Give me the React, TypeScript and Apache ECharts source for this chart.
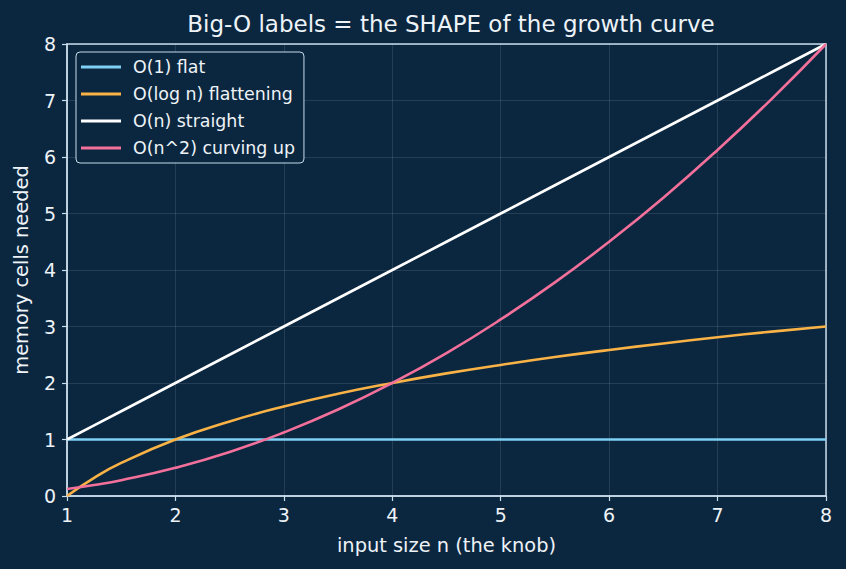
import React, { useEffect, useRef } from "react";
import * as echarts from "echarts";

// input sizes n sampled along the x axis
const nValues = [1, 1.25, 1.5, 2, 2.5, 3, 3.5, 4, 4.5, 5, 5.5, 6, 6.5, 7, 7.5, 8];

// memory cells needed for each growth class
const constantCells = [1, 1, 1, 1, 1, 1, 1, 1, 1, 1, 1, 1, 1, 1, 1, 1];
const logCells = [0, 0.32, 0.585, 1, 1.32, 1.585, 1.81, 2, 2.17, 2.32, 2.46, 2.585, 2.7, 2.81, 2.91, 3];
const linearCells = [1, 1.25, 1.5, 2, 2.5, 3, 3.5, 4, 4.5, 5, 5.5, 6, 6.5, 7, 7.5, 8];
const quadraticCells = [0.125, 0.195, 0.28, 0.5, 0.78, 1.125, 1.53, 2, 2.53, 3.125, 3.78, 4.5, 5.28, 6.125, 7.03, 8];

const seriesNames = ["O(1) flat", "O(log n) flattening", "O(n) straight", "O(n^2) curving up"];
const seriesColors = ["#7fd0f5", "#f8b246", "#ffffff", "#f2709a"];
const seriesValues = [constantCells, logCells, linearCells, quadraticCells];

const BG = "#0b2740";
const SPINE = "#c8dcea";
const TEXT = "#eef3f7";
const FONT = "'DejaVu Sans', sans-serif";

export default function App() {
  const ref = useRef<HTMLDivElement>(null);

  useEffect(() => {
    if (!ref.current) return;
    const chart = echarts.init(ref.current, undefined, { renderer: "svg" });
    chart.setOption({
      animation: false,
      backgroundColor: BG,
      textStyle: { fontFamily: FONT },
      title: {
        text: "Big-O labels = the SHAPE of the growth curve",
        left: 446,
        textAlign: "center",
        top: 7,
        textStyle: { color: TEXT, fontSize: 23, fontWeight: "normal", fontFamily: FONT },
      },
      legend: {
        orient: "vertical",
        left: 76,
        top: 52,
        padding: [5, 9, 5, 5],
        itemGap: 7,
        itemWidth: 40,
        itemHeight: 3,
        icon: "rect",
        backgroundColor: BG,
        borderColor: SPINE,
        borderWidth: 1,
        borderRadius: 4,
        textStyle: { color: TEXT, fontSize: 17.4, fontFamily: FONT, lineHeight: 20, padding: [0, 0, 0, 7] },
        data: seriesNames,
      },
      grid: {
        left: 67,
        right: 20,
        top: 44,
        bottom: 73,
        show: true,
        borderColor: SPINE,
        borderWidth: 1.5,
        backgroundColor: "transparent",
      },
      xAxis: {
        type: "value",
        min: 1,
        max: 8,
        interval: 1,
        name: "input size n (the knob)",
        nameLocation: "middle",
        nameGap: 40,
        nameTextStyle: { color: TEXT, fontSize: 19.4, fontFamily: FONT },
        axisLine: { show: true, lineStyle: { color: SPINE, width: 1.5 } },
        axisTick: { show: true, length: 5, lineStyle: { color: SPINE, width: 1.2 } },
        axisLabel: { color: TEXT, fontSize: 19, margin: 9, fontFamily: FONT },
        splitLine: { show: true, lineStyle: { color: "rgba(255,255,255,0.14)", width: 0.8 } },
      },
      yAxis: {
        type: "value",
        min: 0,
        max: 8,
        interval: 1,
        name: "memory cells needed",
        nameLocation: "middle",
        nameGap: 36,
        nameTextStyle: { color: TEXT, fontSize: 19.4, fontFamily: FONT },
        axisLine: { show: true, lineStyle: { color: SPINE, width: 1.5 } },
        axisTick: { show: true, length: 5, lineStyle: { color: SPINE, width: 1.2 } },
        axisLabel: { color: TEXT, fontSize: 19, margin: 11, fontFamily: FONT },
        splitLine: { show: true, lineStyle: { color: "rgba(255,255,255,0.14)", width: 0.8 } },
      },
      series: seriesNames.map((name, i) => ({
        name,
        type: "line",
        smooth: i === 1 || i === 3,
        symbol: "none",
        color: seriesColors[i],
        lineStyle: { color: seriesColors[i], width: 2.6 },
        data: nValues.map((n, j) => [n, seriesValues[i][j]]),
      })),
    });
    return () => chart.dispose();
  }, []);

  return (
    <div
      ref={ref}
      style={{ position: "fixed", left: 0, top: 0, width: 846, height: 569, background: BG }}
    />
  );
}
